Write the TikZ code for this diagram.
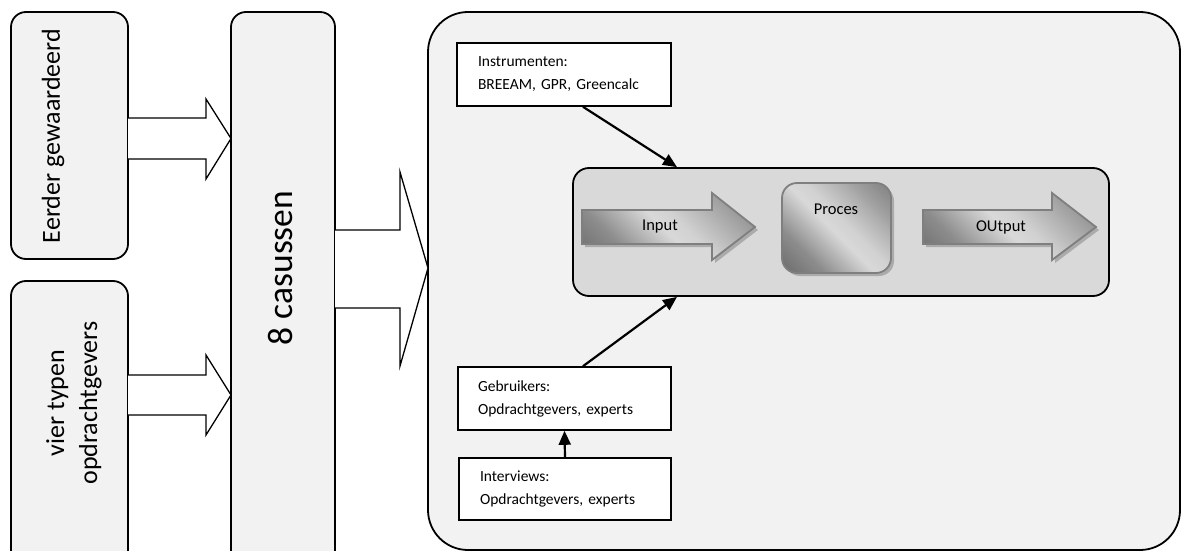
\documentclass[tikz,border=0pt]{standalone}
\usepackage{fontspec}
\setmainfont{Carlito}
\usetikzlibrary{arrows.meta}

% soft diagonal grey gloss used on the process elements
\pgfdeclarehorizontalshading{glossgray}{100bp}{%
  color(0bp)=(black!70); color(30bp)=(black!45); color(48bp)=(black!15);
  color(55bp)=(black!18); color(75bp)=(black!40); color(100bp)=(black!65)}

\definecolor{panel}{HTML}{F2F2F2}
\definecolor{inner}{HTML}{D9D9D9}
\definecolor{rim}{HTML}{7F7F7F}

\tikzset{
  sidebox/.style={draw=black, line width=1.8pt, fill=panel, rounded corners=15pt},
  fatarrow/.style={draw=black, line width=1.3pt, fill=white, line join=miter},
  textbox/.style={draw=black, line width=1.6pt, fill=white, inner xsep=0pt,
    align=left, font=\fontsize{15.5}{23}\selectfont},
  glossy/.style={shading=glossgray, shading angle=45, draw=rim, line width=1.8pt},
  glossshadow/.style={fill=black!33},
  link/.style={line width=2.2pt, -{Triangle[length=14pt,width=12pt]}},
  steplabel/.style={font=\fontsize{16.5}{20}\selectfont}
}

\begin{document}
\begin{tikzpicture}[x=1pt, y=-1pt]
\useasboundingbox (0,0) rectangle (1181,551);
\clip (0,0) rectangle (1181,551);

% left column boxes
\draw[sidebox] (11,12) rectangle (128,259);
\node[rotate=90, font=\fontsize{26}{30}\selectfont] (eerder) at (53,136) {Eerder gewaardeerd};
\draw[sidebox] (11,281) rectangle (128,590);
\node[rotate=90, align=center, font=\fontsize{26}{33}\selectfont] (vier) at (74,403) {vier typen\\opdrachtgevers};

% central case box
\draw[sidebox] (231,12) rectangle (335,590);
\node[rotate=90, font=\fontsize{35.5}{40}\selectfont] (cases) at (281,268) {8 casussen};

% hollow block arrows into the case box
\draw[fatarrow] (128,118) -- (206,118) -- (206,99) -- (231,138.5) -- (206,179) -- (206,159) -- (128,159);
\draw[fatarrow] (128,375) -- (206,375) -- (206,355) -- (231,395) -- (206,435) -- (206,415) -- (128,415);

% research panel
\draw[sidebox, rounded corners=40pt] (428,12) rectangle (1180,550);

% block arrow from the cases to the panel
\draw[fatarrow] (335,230) -- (400,230) -- (400,172) -- (428,268) -- (400,366) -- (400,308) -- (335,308);

% process strip
\node[draw=black, line width=1.8pt, fill=inner, rounded corners=16pt,
      minimum width=536pt, minimum height=128pt] (strip) at (841,232) {};

% input arrow
\fill[glossshadow] (585,213) -- (715,213) -- (715,196) -- (758,230) -- (715,263) -- (715,247) -- (585,247) -- cycle;
\shadedraw[glossy] (582,210) -- (712,210) -- (712,193) -- (755,227) -- (712,260) -- (712,244) -- (582,244) -- cycle;
\node[steplabel] (input) at (660,227) {Input};

% process block
\fill[glossshadow, rounded corners=15pt] (785,186) rectangle (894,276);
\shadedraw[glossy, rounded corners=15pt] (782,183) rectangle (891,273);
\node[steplabel] (proces) at (836,209) {Proces};

% output arrow
\fill[glossshadow] (926,213) -- (1055,213) -- (1055,196) -- (1099,230) -- (1055,263) -- (1055,247) -- (926,247) -- cycle;
\shadedraw[glossy] (923,210) -- (1052,210) -- (1052,193) -- (1096,227) -- (1052,260) -- (1052,244) -- (923,244) -- cycle;
\node[steplabel] (output) at (1001,227) {OUtput};

% annotation boxes
\node[textbox, text width=172pt, minimum width=214pt, minimum height=63pt] (instr) at (564,74.5)
  {Instrumenten:\\BREEAM, GPR, Greencalc};
\node[textbox, text width=173pt, minimum width=213pt, minimum height=63pt] (users) at (564.5,398.5)
  {Gebruikers:\\Opdrachtgevers, experts};
\node[textbox, text width=170pt, minimum width=212pt, minimum height=62pt] (interv) at (565,489)
  {Interviews:\\Opdrachtgevers, experts};

% connectors
\draw[link] ([xshift=19pt]instr.south) -- ([xshift=-164pt]strip.north);
\draw[link] ([xshift=18.5pt]users.north) -- ([xshift=-164pt]strip.south);
\draw[link] (interv.north) -- (users.south);
\end{tikzpicture}
\end{document}
